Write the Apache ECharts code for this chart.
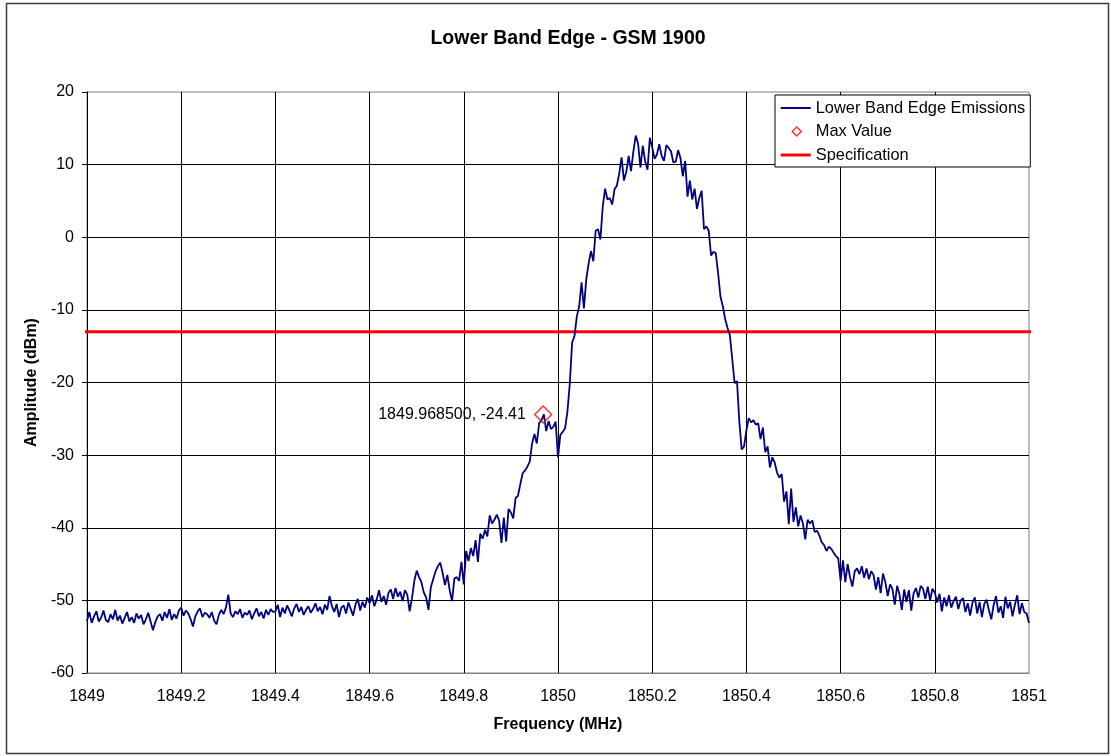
<!DOCTYPE html>
<html><head><meta charset="utf-8">
<script src="https://cdn.jsdelivr.net/npm/echarts@6/dist/echarts.min.js"></script>
<style>html,body{margin:0;padding:0;background:#fff}#c{width:1111px;height:756px}</style>
</head><body><div id="c"></div>
<script>
// Sweep grid
const startFreq = 1849.0;
const stepFreq = 0.005;
// Amplitude readings (dBm), in 0.2 MHz blocks
const amp1849_0 = [-52.8,-51.6,-53.1,-52.2,-51.5,-52.9,-52.4,-51.4,-52.7,-53.0,-51.9,-52.6,-51.3,-52.8,-52.1,-53.2,-52.4,-51.6,-52.9,-52.3,-53.1,-51.8,-52.5,-52.0,-53.3,-52.6,-51.7,-52.9,-54.1,-53.0,-52.2,-51.9,-52.8,-51.6,-52.4,-51.2,-52.7,-51.9,-52.5,-51.4];
const amp1849_2 = [-51.0,-52.1,-51.4,-51.8,-52.6,-53.6,-52.2,-51.5,-51.1,-52.3,-51.7,-51.9,-52.4,-51.6,-52.8,-53.3,-52.0,-51.3,-51.9,-51.0,-49.2,-51.8,-52.3,-51.5,-51.9,-51.2,-52.4,-51.7,-52.0,-51.4,-52.6,-51.8,-51.1,-52.2,-51.6,-52.5,-51.3,-52.0,-51.2,-51.6];
const amp1849_4 = [-51.5,-50.6,-52.3,-51.0,-51.8,-50.7,-51.4,-52.2,-51.1,-50.5,-51.6,-50.9,-52.0,-51.3,-50.8,-51.7,-51.2,-50.4,-51.5,-50.9,-51.9,-50.6,-51.3,-49.4,-50.8,-51.6,-50.5,-52.3,-51.0,-50.7,-51.8,-50.3,-51.2,-52.1,-50.6,-49.8,-51.4,-50.2,-51.0,-49.6];
const amp1849_6 = [-50.4,-49.3,-50.8,-49.9,-48.6,-50.2,-49.4,-50.6,-49.0,-48.5,-49.8,-48.3,-49.5,-48.8,-50.1,-48.6,-49.2,-51.5,-49.7,-47.3,-45.9,-46.8,-47.5,-48.9,-49.6,-51.3,-48.2,-47.1,-46.0,-45.3,-44.8,-46.2,-47.9,-46.5,-48.6,-50.1,-47.0,-46.8,-47.3,-44.7];
const amp1849_8 = [-47.8,-43.2,-44.6,-42.8,-43.9,-41.7,-44.7,-40.8,-41.5,-40.3,-41.2,-38.3,-39.4,-38.9,-38.2,-39.0,-42.1,-38.6,-41.9,-37.4,-37.9,-38.7,-35.9,-35.6,-34.0,-32.5,-32.1,-31.6,-30.9,-28.4,-27.1,-28.4,-25.6,-25.2,-24.4,-26.7,-25.3,-26.4,-26.1,-25.4];
const amp1850_0 = [-30.3,-27.2,-26.8,-26.3,-24.0,-20.2,-14.5,-13.6,-10.9,-9.5,-6.2,-9.8,-5.8,-3.6,-1.9,-3.3,0.9,1.1,-0.3,4.2,6.7,5.2,5.4,4.5,6.6,7.1,8.8,11.0,7.8,9.0,11.2,9.1,11.8,14.0,12.9,9.6,12.6,10.5,9.3,13.7];
const amp1850_2 = [12.4,10.8,11.4,12.8,11.2,10.5,12.7,12.3,11.8,10.3,10.4,12.0,10.9,8.4,10.5,5.6,7.8,5.2,6.7,3.9,5.4,6.4,1.1,1.5,0.9,-2.5,-2.0,-2.2,-5.0,-8.2,-9.5,-11.3,-12.5,-13.5,-16.8,-20.1,-19.8,-25.4,-29.2,-28.8];
const amp1850_4 = [-26.6,-24.9,-25.5,-25.2,-25.8,-25.6,-27.8,-26.2,-29.6,-28.8,-31.7,-30.3,-31.0,-32.4,-33.1,-32.6,-36.4,-35.0,-39.5,-34.6,-39.2,-37.2,-39.8,-38.3,-39.4,-41.6,-38.9,-39.4,-39.0,-40.6,-40.4,-41.1,-42.0,-42.4,-43.2,-42.6,-42.9,-43.4,-43.9,-44.2];
const amp1850_6 = [-47.3,-44.5,-47.5,-45.0,-46.8,-48.1,-46.0,-45.6,-46.4,-45.3,-46.9,-45.6,-47.1,-46.0,-46.5,-48.5,-46.8,-49.0,-46.3,-47.5,-49.4,-47.8,-48.4,-50.6,-48.0,-49.2,-51.3,-48.5,-50.2,-48.6,-51.4,-49.0,-48.3,-49.6,-48.0,-48.4,-49.8,-48.1,-50.0,-48.4];
const amp1850_8 = [-48.9,-50.3,-49.1,-51.5,-49.6,-50.8,-49.3,-51.0,-50.1,-49.5,-51.2,-50.0,-49.7,-51.6,-50.4,-52.1,-50.3,-49.6,-51.8,-50.2,-52.3,-50.5,-49.9,-51.4,-52.6,-50.6,-49.4,-51.7,-50.8,-52.4,-49.5,-51.1,-50.2,-52.2,-50.6,-49.3,-51.9,-50.4,-51.6,-51.8,-53.1];

const maxFreq = 1849.9685;
const maxAmp = -24.41;
const specLevel = -13;
const specFreqs = [1848.9766, 1851.0191];

const seriesNames = ['Lower Band Edge Emissions', 'Max Value', 'Specification'];
const titleText = 'Lower Band Edge - GSM 1900';
const xName = 'Frequency (MHz)';
const yName = 'Amplitude (dBm)';

const amps = [].concat(amp1849_0, amp1849_2, amp1849_4, amp1849_6, amp1849_8,
  amp1850_0, amp1850_2, amp1850_4, amp1850_6, amp1850_8);
const emissions = amps.map((v, i) => [+(startFreq + i * stepFreq).toFixed(4), v]);

const FONT = 'Arial, "Liberation Sans", sans-serif';
// legend icons: 30x10 boxes (corner moves fix the bounding box)
const ICON_TRACE = 'path://M0,0 M30,10 M0,4 L30,4 L30,6 L0,6 Z';
const ICON_SPEC = 'path://M0,0 M30,10 M0,3.5 L30,3.5 L30,6.5 L0,6.5 Z';
const ICON_DIAMOND = 'path://M0,0 M30,10 M16,0.5 L20.5,5 L16,9.5 L11.5,5 Z';

const chart = echarts.init(document.getElementById('c'), null, {renderer: 'canvas'});
chart.setOption({
  animation: false,
  backgroundColor: '#ffffff',
  textStyle: {fontFamily: FONT},
  title: {
    text: titleText, left: 563, top: 24, textAlign: 'center',
    textStyle: {fontFamily: FONT, fontSize: 19.5, fontWeight: 'bold', color: '#000'}
  },
  graphic: [{
    type: 'rect', silent: true, z: -1,
    shape: {x: 6.5, y: 3.5, width: 1102, height: 750},
    style: {fill: 'none', stroke: '#3a3a3a', lineWidth: 1.5}
  }],
  grid: {
    left: 87, right: 82, top: 92, bottom: 83,
    show: true, borderColor: '#808080', borderWidth: 1, backgroundColor: '#fff'
  },
  legend: {
    orient: 'vertical', left: 775, top: 95,
    padding: [5, 5, 4, 5], itemGap: 7.5, itemWidth: 30, itemHeight: 10,
    backgroundColor: '#fff', borderColor: '#000', borderWidth: 1,
    textStyle: {fontFamily: FONT, fontSize: 16.4, color: '#000'},
    data: [
      {name: seriesNames[0], icon: ICON_TRACE, itemStyle: {color: '#000080', borderWidth: 0}},
      {name: seriesNames[1], icon: ICON_DIAMOND, itemStyle: {color: 'rgba(255,255,255,0)', borderColor: '#ff0000', borderWidth: 1.5}},
      {name: seriesNames[2], icon: ICON_SPEC, itemStyle: {color: '#ff0000', borderWidth: 0}}
    ]
  },
  xAxis: {
    type: 'value', min: 1849, max: 1851, interval: 0.2,
    name: xName, nameLocation: 'middle', nameGap: 44,
    nameTextStyle: {fontFamily: FONT, fontSize: 16, fontWeight: 'bold', color: '#000'},
    axisLine: {show: true, onZero: false, lineStyle: {color: '#808080', width: 1}},
    axisTick: {show: false},
    axisLabel: {margin: 16, fontFamily: FONT, fontSize: 16, color: '#000',
      formatter: v => String(+v.toFixed(1))},
    splitLine: {show: true, showMinLine: false, showMaxLine: false, lineStyle: {color: '#000', width: 1}}
  },
  yAxis: {
    type: 'value', min: -60, max: 20, interval: 10,
    name: yName, nameLocation: 'middle', nameGap: 44,
    nameTextStyle: {fontFamily: FONT, fontSize: 16, fontWeight: 'bold', color: '#000'},
    axisLine: {show: true, lineStyle: {color: '#000', width: 1}},
    axisTick: {show: true, inside: false, length: 5, lineStyle: {color: '#000'}},
    axisLabel: {margin: 13, fontFamily: FONT, fontSize: 16, color: '#000'},
    splitLine: {show: true, showMinLine: false, showMaxLine: false, lineStyle: {color: '#000', width: 1}}
  },
  series: [
    {
      name: seriesNames[2], type: 'line', clip: false, symbol: 'none', z: 2,
      data: specFreqs.map(f => [f, specLevel]),
      lineStyle: {color: '#ff0000', width: 3}, itemStyle: {color: '#ff0000'}
    },
    {
      name: seriesNames[0], type: 'line', symbol: 'none', z: 3,
      data: emissions,
      lineStyle: {color: '#000080', width: 1.8}, itemStyle: {color: '#000080'}
    },
    {
      name: seriesNames[1], type: 'scatter', symbol: 'diamond', symbolSize: 17, z: 4,
      data: [[maxFreq, maxAmp]],
      itemStyle: {color: 'rgba(255,255,255,0)', borderColor: '#ff0000', borderWidth: 1.5},
      label: {
        show: true, position: 'left', distance: 8, opacity: 1,
        fontFamily: FONT, fontSize: 16, color: '#000000', textBorderWidth: 0,
        formatter: p => p.value[0].toFixed(6) + ', ' + p.value[1].toFixed(2)
      }
    }
  ]
});
</script></body></html>
